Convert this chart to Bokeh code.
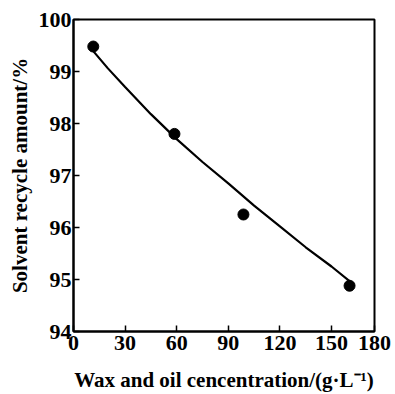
from bokeh.plotting import figure
from bokeh.models import FixedTicker, Range1d
from bokeh.embed import file_html
from bokeh.resources import INLINE

# measured points
conc = [11.5, 58.7, 98.8, 160.5]
recycle = [99.48, 97.80, 96.25, 94.88]

# fitted curve
curve_x = [10, 20, 30, 45, 60, 75, 90, 105, 120, 135, 150, 163]
curve_y = [99.45, 99.06, 98.70, 98.18, 97.70, 97.26, 96.85, 96.42, 96.02, 95.62, 95.25, 94.90]

x_ticks = [0, 30, 60, 90, 120, 150, 175]
x_labels = {175: "180"}
y_ticks = [94, 95, 96, 97, 98, 99, 100]

FONT = "Liberation Serif"

p = figure(width=395, height=394, output_backend="svg", toolbar_location=None,
           x_range=Range1d(0, 175), y_range=Range1d(94, 100))
p.min_border_left = 73
p.min_border_right = 21
p.min_border_top = 19
p.min_border_bottom = 62

p.line(curve_x, curve_y, line_color="black", line_width=2.2)
p.scatter(conc, recycle, size=11, fill_color="black", line_color="black")

p.xgrid.visible = False
p.ygrid.visible = False
p.outline_line_color = "black"
p.outline_line_width = 2
p.background_fill_color = "white"
p.border_fill_color = "white"

for ax in (p.xaxis[0], p.yaxis[0]):
    ax.axis_line_width = 2
    ax.axis_line_color = "black"
    ax.major_tick_in = 6
    ax.major_tick_out = 0
    ax.major_tick_line_width = 1.5
    ax.minor_tick_line_color = None
    ax.major_label_text_font = FONT
    ax.major_label_text_font_style = "bold"
    ax.major_label_text_color = "black"
    ax.axis_label_text_font = FONT
    ax.axis_label_text_font_style = "bold"
    ax.axis_label_text_color = "black"

p.xaxis.ticker = FixedTicker(ticks=x_ticks)
p.xaxis.major_label_overrides = x_labels
p.xaxis.major_label_text_font_size = "22px"
p.xaxis.major_label_standoff = 4
p.xaxis.axis_label = "Wax and oil cencentration/(g·L⁻¹)"
p.xaxis.axis_label_text_font_size = "21px"
p.xaxis.axis_label_standoff = 15

p.yaxis.ticker = FixedTicker(ticks=y_ticks)
p.yaxis.major_label_text_font_size = "22px"
p.yaxis.major_label_standoff = 2
p.yaxis.axis_label = "Solvent recycle amount/%"
p.yaxis.axis_label_text_font_size = "21px"
p.yaxis.axis_label_standoff = 4

open("out.html", "w").write(file_html(p, INLINE))
